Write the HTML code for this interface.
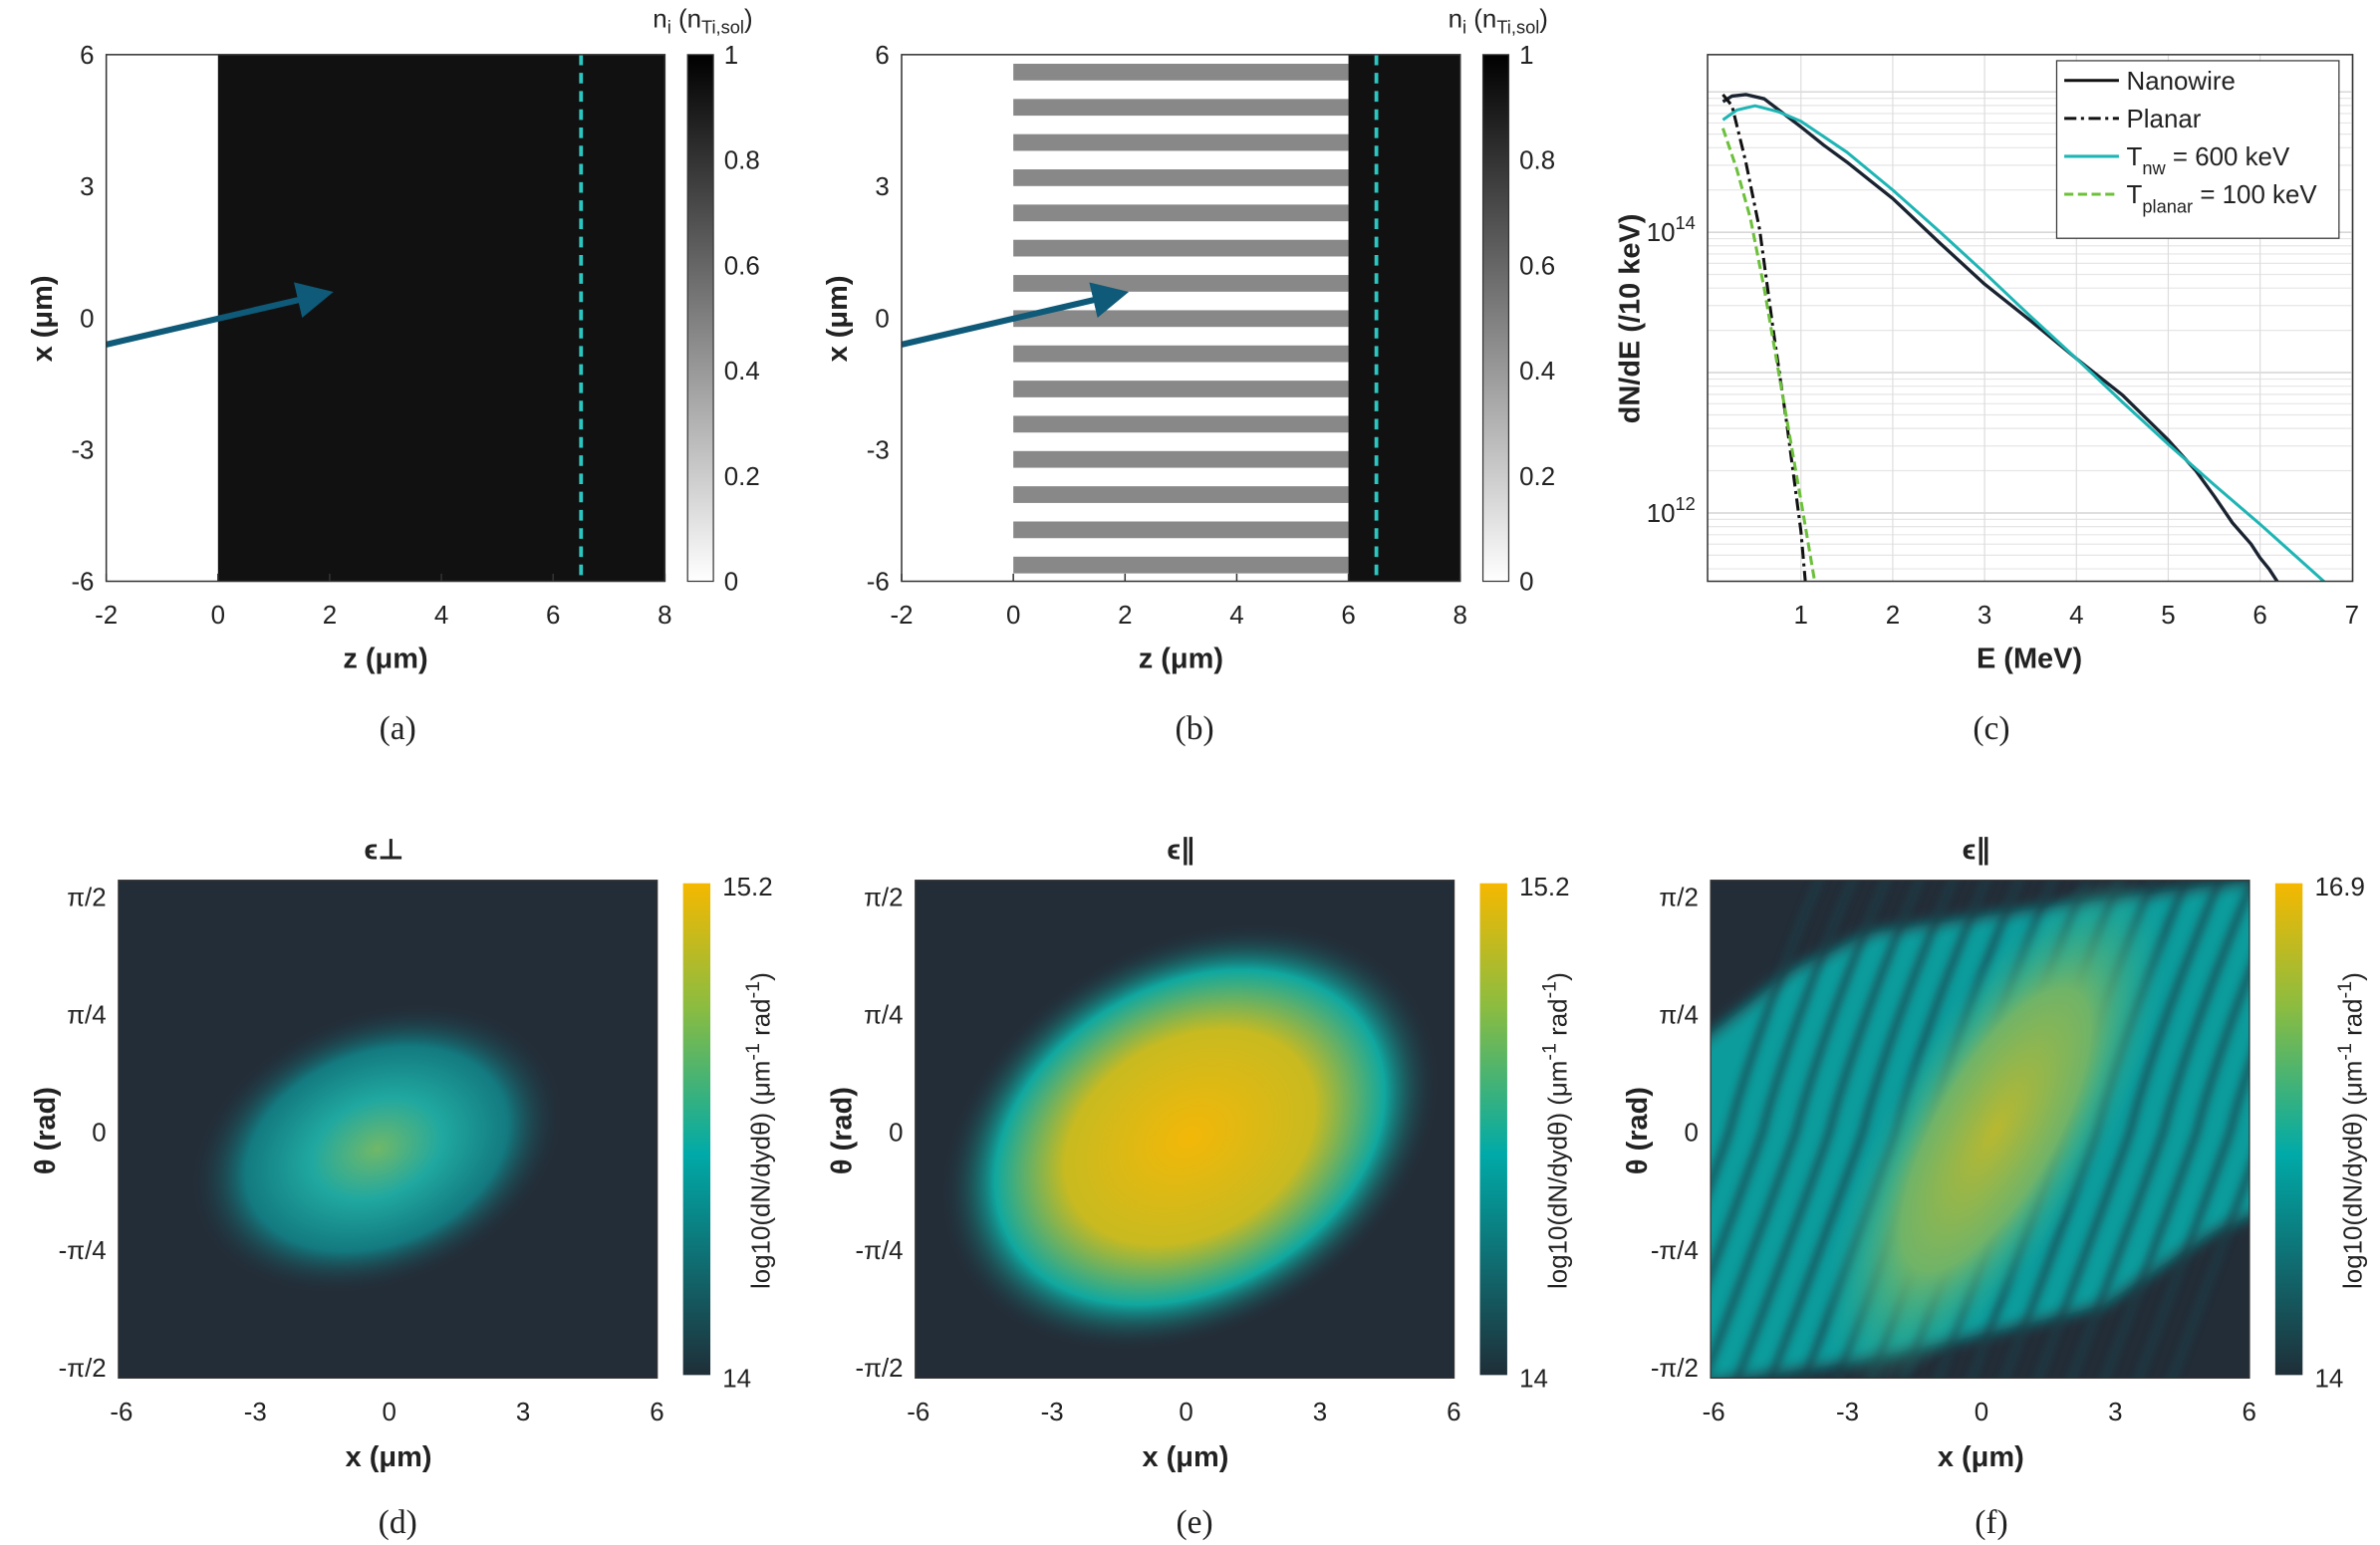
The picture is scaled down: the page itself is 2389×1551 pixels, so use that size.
<!DOCTYPE html>
<html><head><meta charset="utf-8"><style>
html,body{margin:0;padding:0;background:#fff}
svg{display:block}
text{font-family:"Liberation Sans","DejaVu Sans",sans-serif;fill:#222}
.cap{font-family:"Liberation Serif",serif;font-size:22px}
.tk{font-size:17px}
.ax{font-size:19px;font-weight:bold}
</style></head><body>
<svg id="fig" width="2389" height="1551" viewBox="0 0 1568 1018" xmlns="http://www.w3.org/2000/svg">
<defs>
<linearGradient id="gray" x1="0" y1="1" x2="0" y2="0"><stop offset="0" stop-color="#fff"/><stop offset="1" stop-color="#000"/></linearGradient>
<linearGradient id="parula" x1="0" y1="1" x2="0" y2="0"><stop offset="0" stop-color="#1f2e38"/><stop offset="0.45" stop-color="#00aaa8"/><stop offset="0.75" stop-color="#8cbc40"/><stop offset="1" stop-color="#f5b800"/></linearGradient>
<radialGradient id="blobD"><stop offset="0" stop-color="#70b868"/><stop offset="0.35" stop-color="#20a8a0"/><stop offset="0.7" stop-color="#137a80"/><stop offset="1" stop-color="#232d38" stop-opacity="0"/></radialGradient>
<radialGradient id="blobE"><stop offset="0" stop-color="#f3b808"/><stop offset="0.5" stop-color="#c8ba20"/><stop offset="0.78" stop-color="#10a8a0"/><stop offset="1" stop-color="#232d38" stop-opacity="0"/></radialGradient>
<radialGradient id="blobF"><stop offset="0" stop-color="#b8b830"/><stop offset="0.55" stop-color="#70b468"/><stop offset="1" stop-color="#20b0a0" stop-opacity="0"/></radialGradient>
<filter id="blur4"><feGaussianBlur stdDeviation="5"/></filter>
<filter id="blur2"><feGaussianBlur stdDeviation="2.5"/></filter>
<marker id="ah" markerWidth="6" markerHeight="6" refX="3" refY="3" orient="auto"><path d="M0,0L6,3L0,6z" fill="#0e5a78"/></marker>
<clipPath id="clipC"><rect x="1125" y="36" width="425" height="347"/></clipPath>
<clipPath id="clipF"><rect x="1127" y="580" width="355" height="328"/></clipPath>
<clipPath id="clipD"><rect x="78" y="580" width="355" height="328"/></clipPath>
<clipPath id="clipE"><rect x="603" y="580" width="355" height="328"/></clipPath>
</defs>
<g id="root"></g>
</svg>
<script>
// Panel (c) data
const energyNW=[0.15,0.25,0.4,0.6,0.8,1.0,1.25,1.5,1.75,2.0,2.5,3.0,3.5,4.0,4.5,5.0,5.3,5.5,5.7,5.9,6.0,6.1,6.2];
const logNW=[14.93,14.97,14.98,14.95,14.85,14.75,14.62,14.5,14.37,14.24,13.93,13.63,13.37,13.1,12.84,12.52,12.3,12.12,11.93,11.78,11.68,11.6,11.5];
const energyFitNW=[0.15,0.3,0.5,0.75,1.0,1.5,2.0,2.5,3.0,3.5,4.0,4.5,5.0,5.5,6.0,6.7];
const logFitNW=[14.8,14.87,14.9,14.86,14.79,14.57,14.3,14.01,13.71,13.4,13.1,12.79,12.49,12.2,11.92,11.51];
const energyPL=[0.15,0.25,0.4,0.55,0.7,0.85,1.0,1.05];
const logPL=[14.98,14.9,14.5,14.02,13.3,12.62,11.87,11.5];
const energyFitPL=[0.15,0.3,0.45,0.6,0.8,1.0,1.15];
const logFitPL=[14.74,14.45,14.1,13.6,12.84,12.09,11.51];
const xTicksC=[1,2,3,4,5,6,7];
const zTicks=[-2,0,2,4,6,8];
const xTicksA=[6,3,0,-3,-6];
const cbTicks=[1,0.8,0.6,0.4,0.2,0];
const xTicksD=[-6,-3,0,3,6];
const thetaLabels=["π/2","π/4","0","-π/4","-π/2"];
const thetaVals=[0.5,0.25,0,-0.25,-0.5];

const NS="http://www.w3.org/2000/svg";
const root=document.getElementById('root');
function el(tag,attrs,parent,txt){const e=document.createElementNS(NS,tag);for(const k in attrs)e.setAttribute(k,attrs[k]);if(txt!==undefined)e.textContent=txt;(parent||root).appendChild(e);return e;}
function txt(x,y,s,cls,anchor,name,extra){const t=el('text',Object.assign({x:x,y:y,class:cls,'text-anchor':anchor||'middle'},extra||{}),root,s);


return t;}

function densityPanel(x0,stripes,cap,capx){
  const x1=x0+368,y0=36,y1=383;
  const zx=z=>x0+(z+2)*36.8, xy=v=>y0+(6-v)*28.92;
  const g=el('g',{});
  
  
  el('rect',{x:x0,y:y0,width:368,height:347,fill:'#fff'},g);
  if(stripes){
    for(let i=0;i<15;i++){const r=el('rect',{x:zx(0),y:y0+6+i*23.2,width:zx(6)-zx(0),height:11,fill:'#888'},g);
      
      }
    el('rect',{x:zx(6),y:y0,width:x1-zx(6),height:347,fill:'#111'},g);
  } else el('rect',{x:zx(0),y:y0,width:x1-zx(0),height:347,fill:'#111'},g);
  el('line',{x1:zx(6.5),y1:y0,x2:zx(6.5),y2:y1,stroke:'#2cc6c0','stroke-width':2.5,'stroke-dasharray':'7,5'},g);
  el('line',{x1:x0,y1:227,x2:x0+138,y2:195,stroke:'#0e5a78','stroke-width':4,'marker-end':'url(#ah)'},g);
  el('rect',{x:x0,y:y0,width:368,height:347,fill:'none',stroke:'#333','stroke-width':1},g);
  zTicks.forEach(z=>{txt(zx(z),411,String(z),'tk','middle','z-tick');el('line',{x1:zx(z),y1:y1,x2:zx(z),y2:y1-5,stroke:'#333'},g);});
  xTicksA.forEach(v=>{txt(x0-8,xy(v)+6,String(v),'tk','end','x-tick');});
  txt(x0+184,440,'z (μm)','ax','middle','z-axis-title');
  txt(0,0,'x (μm)','ax','middle','x-axis-title',{transform:`translate(${x0-36},210) rotate(-90)`});
  const cx=x0+383;
  const cb=el('rect',{x:cx,y:y0,width:17,height:347,fill:'url(#gray)',stroke:'#333','stroke-width':0.8});
  
  
  cbTicks.forEach(v=>txt(cx+24,y0+(1-v)*347+6,String(v),'tk','start','colorbar-tick'));
  txt(cx+10,18,'n','tk','middle','colorbar-title').innerHTML='n<tspan font-size="12" dy="4">i</tspan><tspan dy="-4"> (n</tspan><tspan font-size="12" dy="4">Ti,sol</tspan><tspan dy="-4">)</tspan>';
  txt(capx,487,cap,'cap','middle','caption');
}
densityPanel(70,false,'(a)',262);
densityPanel(594,true,'(b)',787);

(function(){
  const X0=1125,X1=1550,Y0=36,Y1=383;
  const ex=e=>1126+e*60.5, ly=l=>153-(l-14)*92.5;
  const g=el('g',{});
  
  
  for(let d=11;d<=15;d++)for(let m=1;m<10;m++){const y=ly(d+Math.log10(m));if(y>Y0&&y<Y1)el('line',{x1:X0,x2:X1,y1:y,y2:y,stroke:m==1?'#ccc':'#e6e6e6','stroke-width':0.8},g);}
  xTicksC.forEach(e=>{el('line',{x1:ex(e),x2:ex(e),y1:Y0,y2:Y1,stroke:'#ddd','stroke-width':0.8},g);txt(ex(e),411,String(e),'tk','middle','energy-tick');});
  const cg=el('g',{'clip-path':'url(#clipC)'},g);
  function line(es,ls,col,dash,w,name){const d=es.map((e,i)=>(i?'L':'M')+ex(e).toFixed(1)+','+ly(ls[i]).toFixed(1)).join('');
    const p=el('path',{d:d,fill:'none',stroke:col,'stroke-width':w,'stroke-dasharray':dash||'none','stroke-linejoin':'round'},cg);
    
    }
  line(energyNW,logNW,'#1a2330','',2.2,'nanowire-line');
  line(energyFitNW,logFitNW,'#1fb5b5','',2,'fit-nanowire-line');
  line(energyPL,logPL,'#111','8,3,2,3',2,'planar-line');
  line(energyFitPL,logFitPL,'#6cc03a','6,3',2,'fit-planar-line');
  el('rect',{x:X0,y:Y0,width:425,height:347,fill:'none',stroke:'#333','stroke-width':1},g);
  txt(X0-8,ly(14)+6,'10','tk','end','y-tick').innerHTML='10<tspan font-size="12" dy="-8">14</tspan>';
  txt(X0-8,ly(12)+6,'10','tk','end','y-tick').innerHTML='10<tspan font-size="12" dy="-8">12</tspan>';
  txt(1337,440,'E (MeV)','ax','middle','energy-axis-title');
  txt(0,0,'dN/dE (/10 keV)','ax','middle','y-axis-title',{transform:'translate(1080,210) rotate(-90)'});
  const lg=el('g',{});
  
  
  el('rect',{x:1355,y:40,width:186,height:117,fill:'#fff',stroke:'#333','stroke-width':0.8},lg);
  const items=[['Nanowire','#111',''],['Planar','#111','8,3,2,3'],['T','#1fb5b5',''],['T','#6cc03a','6,3']];
  items.forEach((it,i)=>{const y=53+i*25;el('line',{x1:1360,x2:1396,y1:y,y2:y,stroke:it[1],'stroke-width':2,'stroke-dasharray':it[2]||'none'},lg);
    const t=txt(1401,y+6,it[0],'tk','start','legend-entry');
    if(i==2)t.innerHTML='T<tspan font-size="12" dy="6">nw</tspan><tspan dy="-6"> = 600 keV</tspan>';
    if(i==3)t.innerHTML='T<tspan font-size="12" dy="6">planar</tspan><tspan dy="-6"> = 100 keV</tspan>';});
  txt(1312,487,'(c)','cap','middle','caption');
})();

function phasePanel(x0,kind,title,cap,capx,cbmax){
  const y0=580,w=355,h=328;
  const xx=v=>x0+2+(v+6)*29.4, ty=t=>y0+10+(0.5-t)*310;
  const g=el('g',{});
  
  
  el('rect',{x:x0,y:y0,width:w,height:h,fill:'#232d38'},g);
  const cx=xx(0),cy=ty(0);
  if(kind=='d'){const cg=el('g',{'clip-path':'url(#clipD)'},g);
    el('ellipse',{cx:cx-12,cy:cy+8,rx:128,ry:90,fill:'url(#blobD)',transform:`rotate(-22 ${cx} ${cy})`},cg);}
  if(kind=='e'){const cg=el('g',{'clip-path':'url(#clipE)'},g);
    el('ellipse',{cx:cx,cy:cy+5,rx:175,ry:128,fill:'url(#blobE)',transform:`rotate(-30 ${cx} ${cy})`},cg);}
  if(kind=='f'){
    const cg=el('g',{'clip-path':'url(#clipF)'},g);
    el('path',{d:'M1115,691 L1180,640 L1232,615 L1341,599 L1457,584 L1495,580 L1495,795 L1457,812 L1385,860 L1297,881 L1210,899 L1115,912 Z',fill:'#109c9c',filter:'url(#blur4)'},cg);
    for(let i=-8;i<=8;i++){const bx=cx+i*22+5;
      el('path',{d:`M${bx-60},${cy+175} Q${bx-5},${cy+30} ${bx+5},${cy} Q${bx+20},${cy-60} ${bx+70},${cy-180}`,fill:'none',stroke:'#1d4048','stroke-width':6,opacity:0.6,filter:'url(#blur2)'},cg);}
    el('ellipse',{cx:cx+8,cy:cy-5,rx:70,ry:190,fill:'url(#blobF)',transform:`rotate(30 ${cx} ${cy})`},cg);
  }
  el('rect',{x:x0,y:y0,width:w,height:h,fill:'none',stroke:'#333','stroke-width':0.8},g);
  xTicksD.forEach(v=>txt(xx(v),936,String(v),'tk','middle','x-tick',{'font-size':19}));
  thetaVals.forEach((t,i)=>txt(x0-8,ty(t)+7,thetaLabels[i],'tk','end','theta-tick',{'font-size':19}));
  txt(x0+178,966,'x (μm)','ax','middle','x-axis-title',{'font-size':22});
  txt(0,0,'θ (rad)','ax','middle','theta-axis-title',{'font-size':22,transform:`translate(${x0-42},745) rotate(-90)`});
  txt(x0+175,566,title,'ax','middle','plot-title',{'font-size':30,'font-weight':'normal','font-family':'"Liberation Serif",serif'});
  const cbx=x0+372;
  const cb=el('rect',{x:cbx,y:582,width:18,height:324,fill:'url(#parula)'});
  
  
  txt(cbx+26,590,cbmax,'tk','start','colorbar-max',{'font-size':19});
  txt(cbx+26,914,'14','tk','start','colorbar-min',{'font-size':19});
  txt(0,0,'log10(dN/dydθ) (μm','tk','middle','colorbar-title',{'font-size':19,transform:`translate(${cbx+57},745) rotate(-90)`}).innerHTML='log10(dN/dydθ) (μm<tspan font-size="13" dy="-7">-1</tspan><tspan dy="7"> rad</tspan><tspan font-size="13" dy="-7">-1</tspan><tspan dy="7">)</tspan>';
  txt(capx,1010,cap,'cap','middle','caption');
}
phasePanel(78,'d','ϵ⊥','(d)',262,'15.2');
phasePanel(603,'e','ϵ∥','(e)',787,'15.2');
phasePanel(1127,'f','ϵ∥','(f)',1312,'16.9');
</script>
</body></html>
